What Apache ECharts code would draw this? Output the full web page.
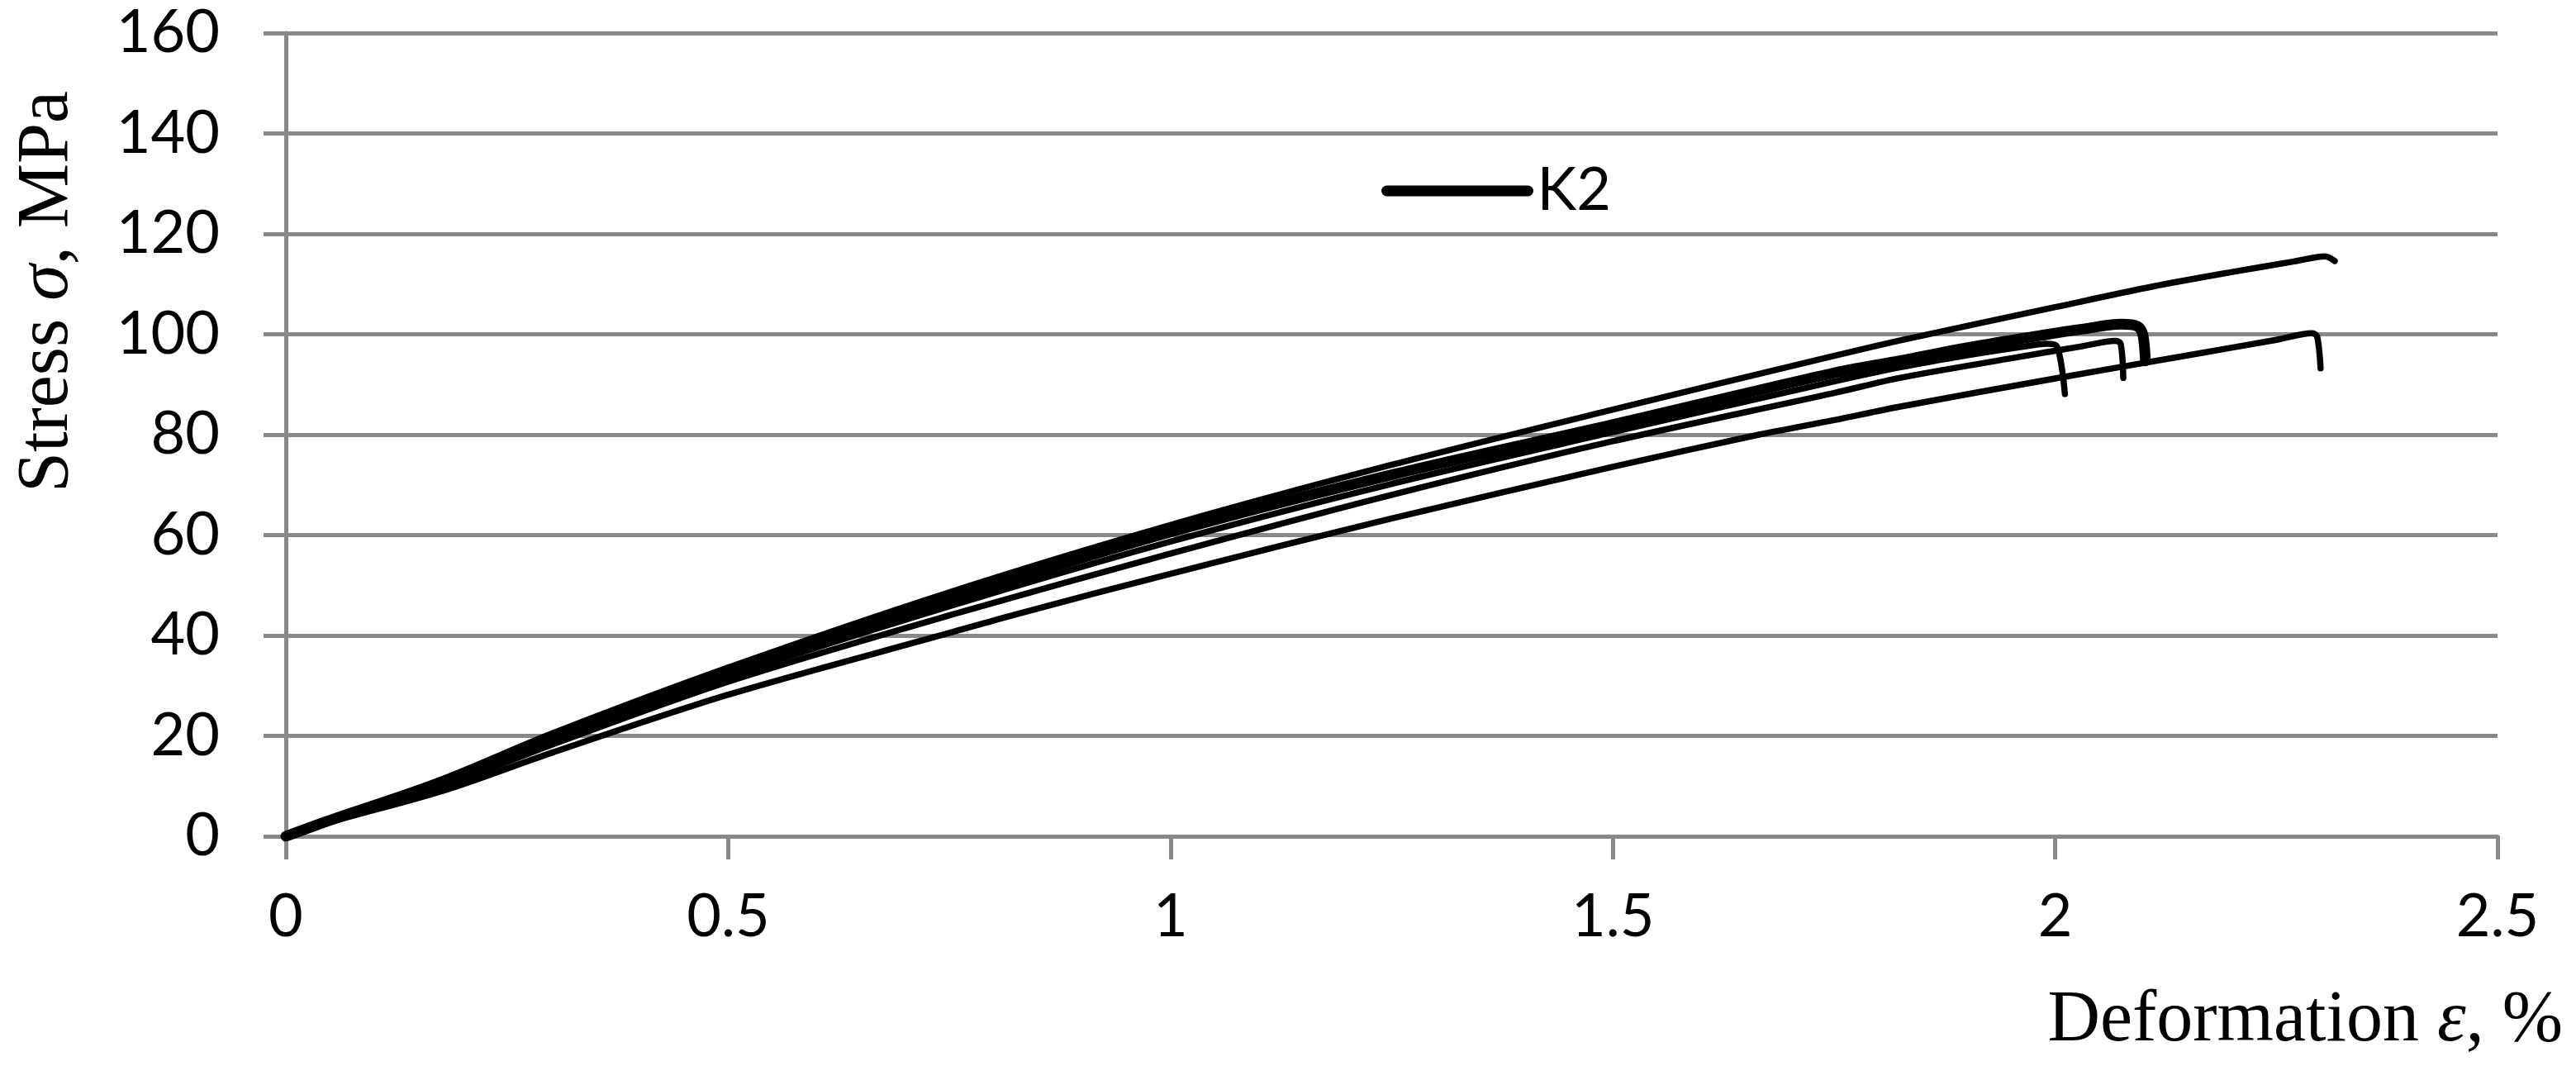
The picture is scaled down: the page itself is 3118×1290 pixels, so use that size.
<!DOCTYPE html>
<html><head><meta charset="utf-8">
<script src="https://cdn.jsdelivr.net/npm/echarts@6/dist/echarts.min.js"></script>
<style>html,body{margin:0;padding:0;background:#fff}#c{width:3118px;height:1290px}</style>
</head><body><div id="c"></div>
<script>
// Strain (%) and stress (MPa) for each specimen curve
const strainA = [0, 0.05, 0.18, 0.3, 0.5, 0.75, 1.0, 1.25, 1.5, 1.75, 1.825, 2.0, 2.11, 2.2, 2.27, 2.305, 2.316];
const stressA = [0, 3.3, 11.6, 20.4, 33.6, 48.6, 62.0, 74.0, 85.0, 95.7, 98.8, 105.4, 109.5, 112.4, 114.5, 115.5, 114.6];

const strainK2 = [0, 0.05, 0.18, 0.3, 0.5, 0.75, 1.0, 1.25, 1.5, 1.75, 1.824, 1.9, 1.985, 2.03, 2.075, 2.093, 2.099, 2.102];
const stressK2 = [0, 3.2, 11.0, 19.6, 32.6, 47.2, 60.6, 72.0, 82.0, 92.3, 94.7, 97.3, 99.8, 101.0, 102.0, 101.6, 100.0, 94.7];

const strainD = [0, 0.05, 0.18, 0.3, 0.5, 0.75, 1.0, 1.25, 1.5, 1.75, 1.824, 1.9, 1.97, 1.99, 2.002, 2.011];
const stressD = [0, 3.1, 10.6, 19.0, 31.8, 45.8, 58.7, 70.2, 80.5, 90.6, 93.4, 95.8, 97.7, 98.1, 97.6, 88.1];

const strainC = [0, 0.05, 0.18, 0.3, 0.5, 0.75, 1.0, 1.25, 1.5, 1.75, 1.824, 1.95, 2.03, 2.068, 2.074, 2.077];
const stressC = [0, 3.0, 10.1, 18.2, 30.8, 44.0, 56.3, 68.0, 78.7, 88.3, 91.3, 95.2, 97.6, 98.7, 98.1, 91.3];

const strainE = [0, 0.05, 0.18, 0.3, 0.5, 0.75, 0.823, 1.0, 1.25, 1.5, 1.665, 1.75, 1.825, 2.0, 2.15, 2.25, 2.29, 2.296, 2.300];
const stressE = [0, 2.8, 9.2, 16.6, 28.2, 40.5, 44.1, 52.3, 63.3, 73.6, 80.0, 82.9, 85.6, 91.2, 95.8, 98.9, 100.2, 99.6, 93.2];

const xMin = 0, xMax = 2.5, xStep = 0.5;
const yMin = 0, yMax = 160, yStep = 20;
const legendNames = ['K2'];

const pairs = (xs, ys) => xs.map((x, i) => [x, ys[i]]);

const gridColor = '#898989';
const tickFont = 'Lato, "Open Sans", sans-serif';
const serif = '"Liberation Serif", "DejaVu Serif", serif';

function lineSeries(name, xs, ys, w, z) {
  return {
    name: name, type: 'line', data: pairs(xs, ys), symbol: 'none',
    smooth: 0.3,
    z: z, animation: false,
    lineStyle: { color: '#000', width: w, cap: 'round', join: 'round' },
    itemStyle: { color: '#000' }
  };
}

const chart = echarts.init(document.getElementById('c'), null, { renderer: 'canvas' });
chart.setOption({
  animation: false,
  backgroundColor: '#fff',
  grid: { left: 346, right: 95, top: 40, bottom: 278, containLabel: false },
  legend: {
    data: legendNames, left: 1667, top: 186, itemWidth: 171, itemHeight: 14,
    itemStyle: { color: '#000' },
    lineStyle: { width: 13, cap: 'round', color: '#000' },
    textStyle: { fontFamily: tickFont, fontSize: 72, color: '#000', lineHeight: 80, padding: [0, 0, 0, 6] }
  },
  xAxis: {
    type: 'value', min: xMin, max: xMax, interval: xStep,
    axisLine: { show: true, lineStyle: { color: gridColor, width: 5 } },
    axisTick: { show: true, length: 28, lineStyle: { color: gridColor, width: 5 } },
    splitLine: { show: false },
    axisLabel: { fontFamily: tickFont, fontSize: 72, color: '#000', margin: 62 }
  },
  yAxis: {
    type: 'value', min: yMin, max: yMax, interval: yStep,
    axisLine: { show: true, lineStyle: { color: gridColor, width: 5 } },
    axisTick: { show: true, length: 27, lineStyle: { color: gridColor, width: 5 } },
    splitLine: { show: true, lineStyle: { color: gridColor, width: 5 } },
    axisLabel: { fontFamily: tickFont, fontSize: 72, color: '#000', margin: 80 }
  },
  graphic: [
    {
      type: 'text', x: 3102, y: 1236,
      style: {
        text: '{n|Deformation }{i|ε}{n|, %}',
        align: 'right', verticalAlign: 'middle',
        rich: {
          n: { fontFamily: serif, fontSize: 88, fill: '#000' },
          i: { fontFamily: serif, fontSize: 88, fontStyle: 'italic', fill: '#000' }
        }
      }
    },
    {
      type: 'text', x: 58, y: 353, rotation: Math.PI / 2,
      style: {
        text: '{n|Stress }{i|σ}{n|, MPa}',
        align: 'center', verticalAlign: 'middle',
        rich: {
          n: { fontFamily: serif, fontSize: 88, fill: '#000' },
          i: { fontFamily: serif, fontSize: 88, fontStyle: 'italic', fill: '#000' }
        }
      }
    }
  ],
  series: [
    lineSeries('Specimen 1', strainA, stressA, 7.5, 3),
    lineSeries('Specimen 5', strainE, stressE, 7.5, 3),
    lineSeries('Specimen 3', strainC, stressC, 7.5, 3),
    lineSeries('Specimen 4', strainD, stressD, 7.5, 3),
    lineSeries('K2', strainK2, stressK2, 13, 4)
  ]
});
</script>
</body></html>
